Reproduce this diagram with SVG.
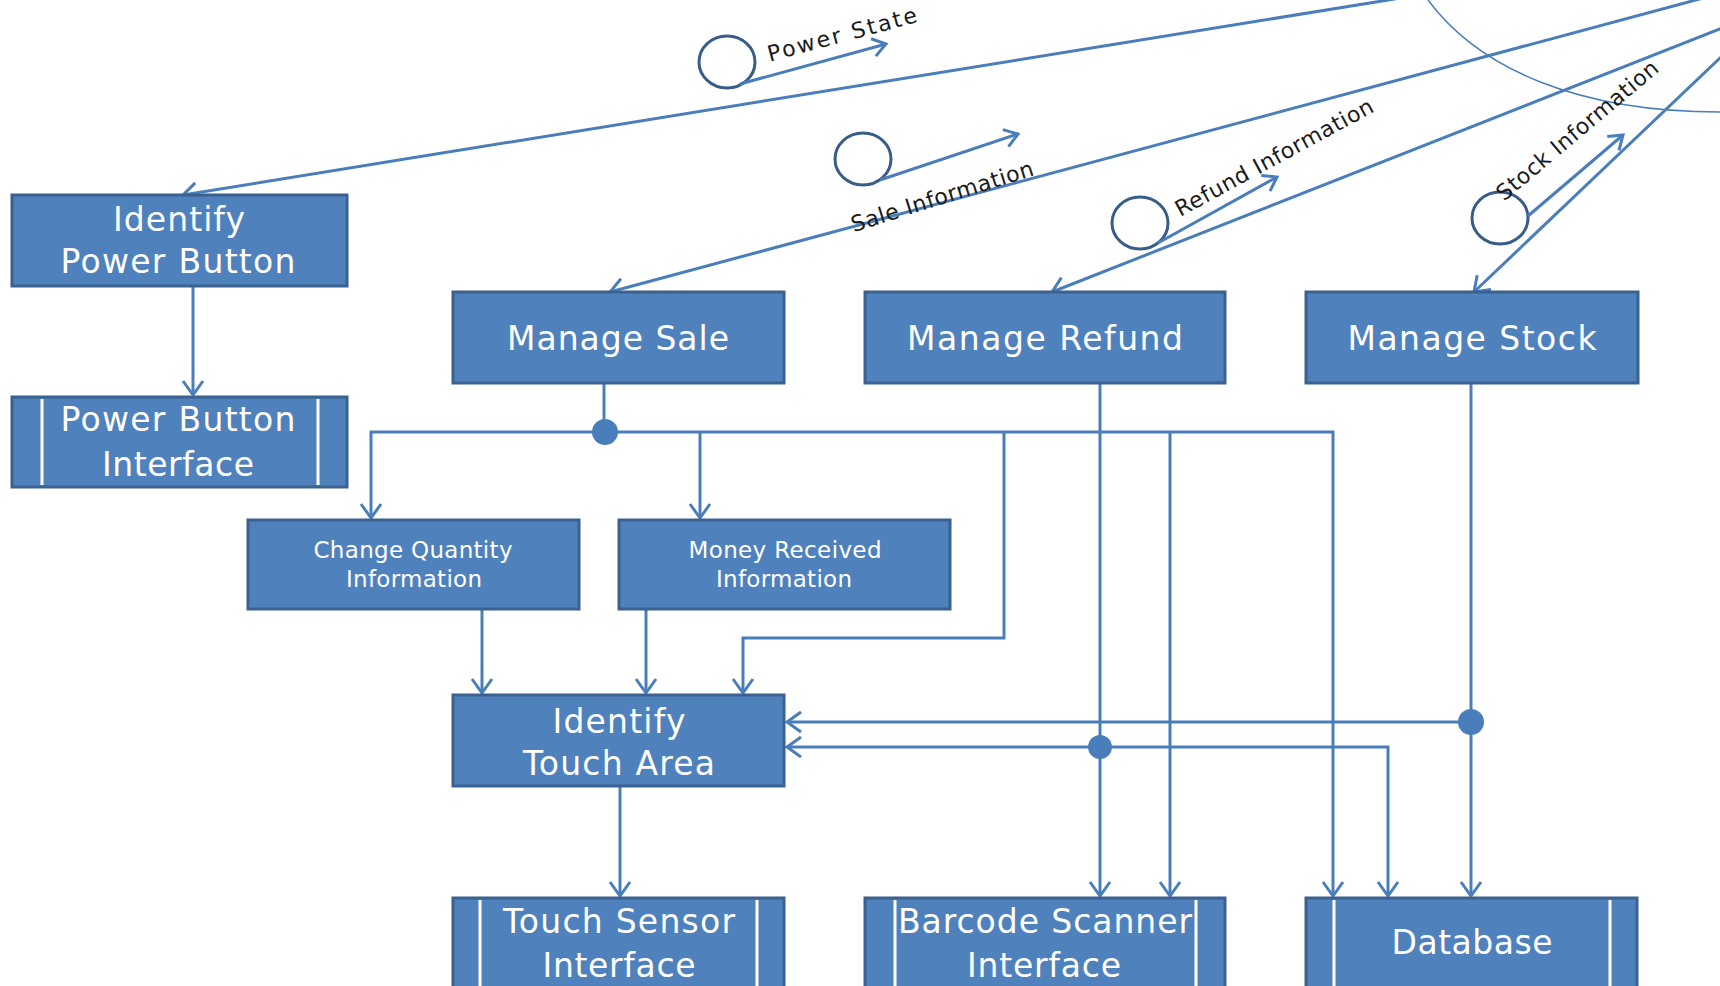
<svg xmlns="http://www.w3.org/2000/svg" width="1720" height="986" viewBox="0 0 1720 986">
<style>
.box{fill:#4f81bd;stroke:#3b6190;stroke-width:3}
.bar{stroke:#ffffff;stroke-width:3}
.lbl{font-family:"DejaVu Sans","Liberation Sans",sans-serif;fill:#ffffff;text-anchor:middle}
.big{font-size:33px}
.small{font-size:23px}
.wire{fill:none;stroke:#4a7ebb;stroke-width:3}
.arr{marker-end:url(#head)}
.dot{fill:#4a7ebb}
.ring{fill:none;stroke:#385d8a;stroke-width:3}
.flow{fill:none;stroke:#4a7ebb;stroke-width:3;marker-end:url(#tip)}
.mtxt{font-family:"DejaVu Sans","Liberation Sans",sans-serif;font-size:22px;fill:#1a1a1a;text-anchor:middle}
</style>
<defs>
<marker id="head" markerUnits="userSpaceOnUse" markerWidth="40" markerHeight="40" viewBox="-20 -20 40 40" refX="0" refY="0" orient="auto" overflow="visible">
<path d="M-14,-10 L0,0 L-14,10" fill="none" stroke="#4a7ebb" stroke-width="3"/>
</marker>
<marker id="tip" markerUnits="userSpaceOnUse" markerWidth="40" markerHeight="40" viewBox="-20 -20 40 40" refX="0" refY="0" orient="auto" overflow="visible">
<path d="M-13,-9 L0,0 L-13,9" fill="none" stroke="#4a7ebb" stroke-width="3"/>
</marker>
</defs>

<!-- boundary arc of the actor area -->
<path d="M1428,0 C1480,70 1580,112 1720,112" fill="none" stroke="#4a7ebb" stroke-width="1.5"/>

<g id="connectors">
<!-- lines from the external actor -->
<path class="wire arr" d="M1450,-10 L183,195"/>
<path class="wire arr" d="M1733,-10 L610,292"/>
<path class="wire arr" d="M1740,21 L1052,292"/>
<path class="wire arr" d="M1740,39 L1474,292"/>
<!-- power button -->
<path class="wire arr" d="M193,286 V395"/>
<!-- manage sale fan-out -->
<path class="wire" d="M604,383 V432"/>
<path class="wire arr" d="M604,432 H371 V518"/>
<path class="wire arr" d="M604,432 H1333 V896"/>
<path class="wire arr" d="M700,432 V518"/>
<path class="wire arr" d="M1004,432 V638 H743 V693"/>
<path class="wire arr" d="M1170,432 V896"/>
<!-- information boxes to touch area -->
<path class="wire arr" d="M482,609 V693"/>
<path class="wire arr" d="M646,609 V693"/>
<!-- touch area to sensor -->
<path class="wire arr" d="M620,786 V896"/>
<!-- manage refund -->
<path class="wire arr" d="M1100,383 V896"/>
<path class="wire arr" d="M1100,747 H787"/>
<path class="wire arr" d="M1100,747 H1388 V896"/>
<!-- manage stock -->
<path class="wire arr" d="M1471,383 V896"/>
<path class="wire arr" d="M1471,722 H787"/>
<!-- junctions -->
<circle class="dot" cx="605" cy="432" r="13"/>
<circle class="dot" cx="1100" cy="747" r="12"/>
<circle class="dot" cx="1471" cy="722" r="13"/>
</g>

<g id="messages">
<g id="msg-power">
<ellipse class="ring" cx="727" cy="62" rx="28" ry="26"/>
<path class="flow" d="M740,84 L886,44"/>
<text class="mtxt" transform="translate(842,34) rotate(-15)" y="8" textLength="154" lengthAdjust="spacing">Power State</text>
</g>
<g id="msg-sale">
<ellipse class="ring" cx="863" cy="159" rx="28" ry="26"/>
<path class="flow" d="M880,180 L1018,134"/>
<text class="mtxt" transform="translate(942,196) rotate(-17.5)" y="8" textLength="190" lengthAdjust="spacing">Sale Information</text>
</g>
<g id="msg-refund">
<ellipse class="ring" cx="1140" cy="223" rx="28" ry="26"/>
<path class="flow" d="M1158,243 L1277,177"/>
<text class="mtxt" transform="translate(1274,157) rotate(-28.5)" y="8" textLength="222" lengthAdjust="spacing">Refund Information</text>
</g>
<g id="msg-stock">
<ellipse class="ring" cx="1500" cy="218" rx="28" ry="26"/>
<path class="flow" d="M1528,216 L1623,135"/>
<text class="mtxt" transform="translate(1577,130) rotate(-40)" y="8" textLength="204" lengthAdjust="spacing">Stock Information</text>
</g>
</g>

<g id="identify-power-button">
<rect class="box" x="12" y="195" width="335" height="91"/>
<text class="lbl big" x="179" y="231" textLength="132" lengthAdjust="spacing">Identify</text>
<text class="lbl big" x="178" y="273" textLength="235" lengthAdjust="spacing">Power Button</text>
</g>

<g id="power-button-interface">
<rect class="box" x="12" y="397" width="335" height="90"/>
<line class="bar" x1="42" y1="399" x2="42" y2="485"/>
<line class="bar" x1="318" y1="399" x2="318" y2="485"/>
<text class="lbl big" x="178" y="431" textLength="235" lengthAdjust="spacing">Power Button</text>
<text class="lbl big" x="178" y="476" textLength="152" lengthAdjust="spacing">Interface</text>
</g>

<g id="manage-sale">
<rect class="box" x="453" y="292" width="331" height="91"/>
<text class="lbl big" x="618" y="350" textLength="222" lengthAdjust="spacing">Manage Sale</text>
</g>

<g id="manage-refund">
<rect class="box" x="865" y="292" width="360" height="91"/>
<text class="lbl big" x="1045" y="350" textLength="276" lengthAdjust="spacing">Manage Refund</text>
</g>

<g id="manage-stock">
<rect class="box" x="1306" y="292" width="332" height="91"/>
<text class="lbl big" x="1472" y="350" textLength="249" lengthAdjust="spacing">Manage Stock</text>
</g>

<g id="change-quantity-information">
<rect class="box" x="248" y="520" width="331" height="89"/>
<text class="lbl small" x="413" y="558" textLength="199" lengthAdjust="spacing">Change Quantity</text>
<text class="lbl small" x="414" y="587" textLength="136" lengthAdjust="spacing">Information</text>
</g>

<g id="money-received-information">
<rect class="box" x="619" y="520" width="331" height="89"/>
<text class="lbl small" x="785" y="558" textLength="193" lengthAdjust="spacing">Money Received</text>
<text class="lbl small" x="784" y="587" textLength="136" lengthAdjust="spacing">Information</text>
</g>

<g id="identify-touch-area">
<rect class="box" x="453" y="695" width="331" height="91"/>
<text class="lbl big" x="619" y="733" textLength="133" lengthAdjust="spacing">Identify</text>
<text class="lbl big" x="619" y="775" textLength="192" lengthAdjust="spacing">Touch Area</text>
</g>

<g id="touch-sensor-interface">
<rect class="box" x="453" y="898" width="331" height="94"/>
<line class="bar" x1="480" y1="900" x2="480" y2="992"/>
<line class="bar" x1="757" y1="900" x2="757" y2="992"/>
<text class="lbl big" x="619" y="933" textLength="232" lengthAdjust="spacing">Touch Sensor</text>
<text class="lbl big" x="619" y="977" textLength="153" lengthAdjust="spacing">Interface</text>
</g>

<g id="barcode-scanner-interface">
<rect class="box" x="865" y="898" width="360" height="94"/>
<line class="bar" x1="895" y1="900" x2="895" y2="992"/>
<line class="bar" x1="1196" y1="900" x2="1196" y2="992"/>
<text class="lbl big" x="1045" y="933" textLength="294" lengthAdjust="spacing">Barcode Scanner</text>
<text class="lbl big" x="1044" y="977" textLength="154" lengthAdjust="spacing">Interface</text>
</g>

<g id="database">
<rect class="box" x="1306" y="898" width="331" height="94"/>
<line class="bar" x1="1334" y1="900" x2="1334" y2="992"/>
<line class="bar" x1="1610" y1="900" x2="1610" y2="992"/>
<text class="lbl big" x="1472" y="954" textLength="161" lengthAdjust="spacing">Database</text>
</g>
</svg>
